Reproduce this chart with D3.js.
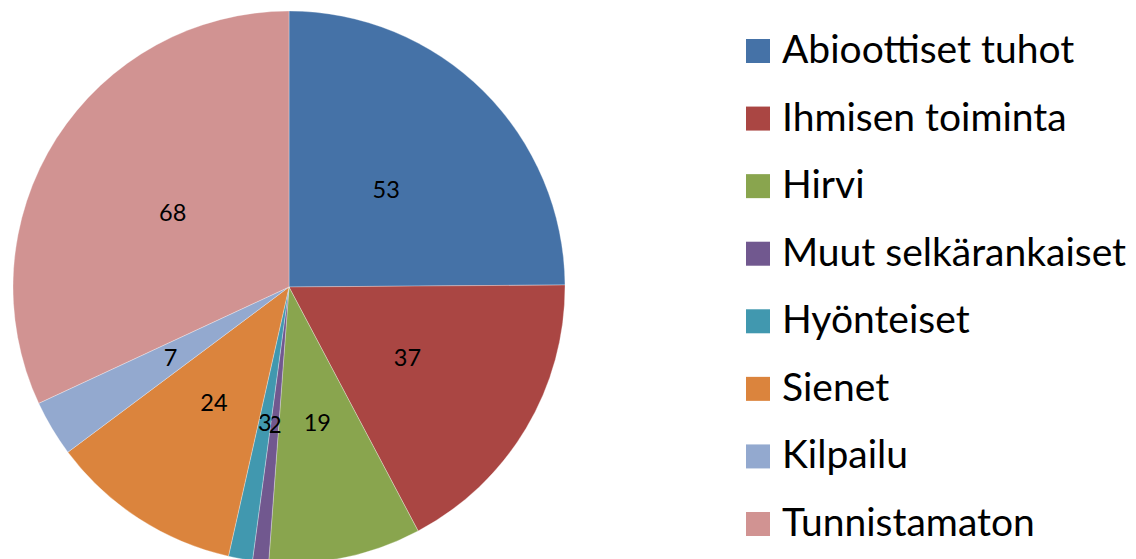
<!DOCTYPE html>
<html>
<head>
<meta charset="utf-8">
<script src="https://cdn.jsdelivr.net/npm/d3@7"></script>
<style>
  html, body { margin: 0; padding: 0; background: #fff; }
  svg { display: block; }
  text { font-family: Lato, "Open Sans", sans-serif; fill: #000; }
</style>
</head>
<body>
<svg id="chart" width="1136" height="559"></svg>
<script>
// data
var categories = ['Abioottiset tuhot', 'Ihmisen toiminta', 'Hirvi', 'Muut selkärankaiset',
  'Hyönteiset', 'Sienet', 'Kilpailu', 'Tunnistamaton'];
var values = [53, 37, 19, 2, 3, 24, 7, 68];
var colors = ['#4572A7', '#AA4643', '#89A54E', '#71588F', '#4198AF', '#DB843D', '#93A9CF', '#D19392'];

var svg = d3.select('#chart');

var cx = 289, cy = 287, radius = 276;

var pie = d3.pie().sort(null).value(function (d) { return d.value; });
var arc = d3.arc().innerRadius(0).outerRadius(radius);
var labelArc = d3.arc().innerRadius(radius / 2).outerRadius(radius / 2);

var rows = categories.map(function (c, i) {
  return { name: c, value: values[i], color: colors[i] };
});

var g = svg.append('g').attr('transform', 'translate(' + cx + ',' + cy + ')');

var slices = g.selectAll('g.slice')
  .data(pie(rows))
  .enter().append('g')
  .attr('class', 'slice');

slices.append('path')
  .attr('d', arc)
  .attr('fill', function (d) { return d.data.color; })
  .attr('stroke', '#fff')
  .attr('stroke-opacity', 0.5)
  .attr('stroke-width', 0.6);

// value labels, centred half way out (the 3 and 2 touch, as in the original)
slices.append('text')
  .attr('transform', function (d) { return 'translate(' + labelArc.centroid(d) + ')'; })
  .attr('text-anchor', 'middle')
  .attr('dy', '0.36em')
  .style('font-size', '23.5px')
  .text(function (d) { return d.data.value; });

// legend
var legendY = d3.scalePoint()
  .domain(categories)
  .range([39, 512]);

var legend = svg.append('g')
  .selectAll('g')
  .data(rows)
  .enter().append('g')
  .attr('transform', function (d) { return 'translate(746,' + legendY(d.name) + ')'; });

legend.append('rect')
  .attr('width', 24)
  .attr('height', 24)
  .attr('fill', function (d) { return d.color; });

legend.append('text')
  .attr('x', 36)
  .attr('y', 24)
  .style('font-size', '39px')
  .text(function (d) { return d.name; });
</script>
</body>
</html>
